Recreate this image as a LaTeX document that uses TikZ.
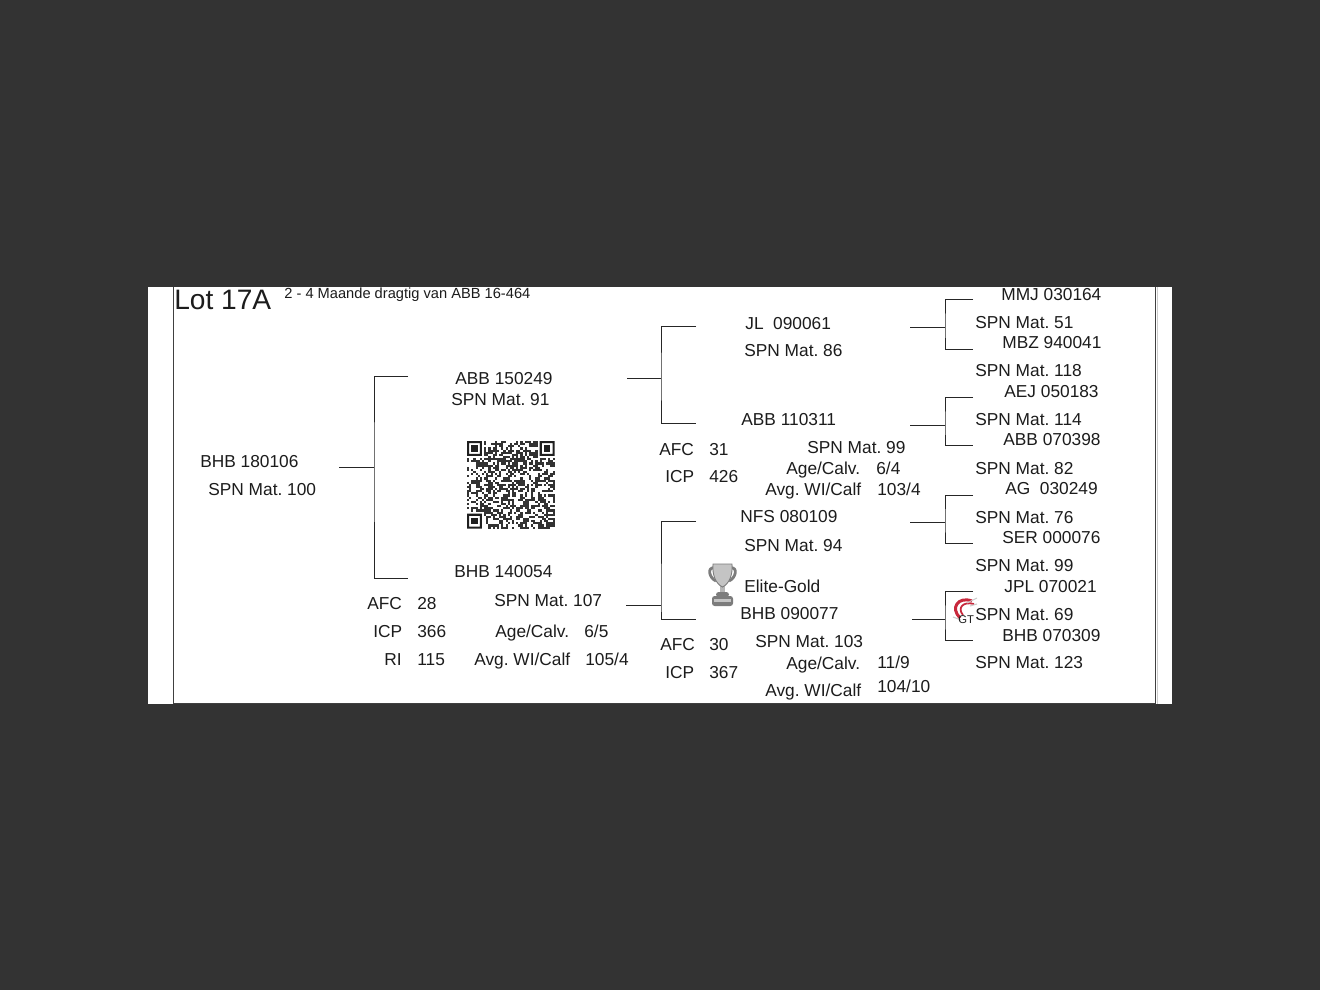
\documentclass[tikz,border=0pt]{standalone}
\usepackage{fontspec}
\setmainfont{Liberation Sans}
\usepackage{xcolor}
\usetikzlibrary{arrows.meta,positioning,calc}
\definecolor{darkbg}{HTML}{333333}
\definecolor{inkblack}{HTML}{1C1C1C}
\definecolor{cupgray}{HTML}{C4C4C4}
\definecolor{cupedge}{HTML}{7C7C7C}
\definecolor{logored}{HTML}{C8283C}
\frenchspacing
\begin{document}
\begin{tikzpicture}[x=0.02cm, y=-0.02cm,
    lab/.style={anchor=base west, inner sep=0pt, yshift=-3.8pt, text=inkblack, font=\fontsize{9.85}{11}\selectfont},
    tree/.style={draw=black!85, line width=0.45pt}]
  \useasboundingbox (0,0) rectangle (1320,990);
  \fill[darkbg] (0,0) rectangle (1320,990);
  \fill[white] (148,287) rectangle (1172,704);
  \draw[line width=0.5pt, draw=black!75] (173.5,287) -- (173.5,703.5) -- (1155,703.5) -- (1155,287);
  \draw[line width=0.5pt, draw=black!20] (1157,287) -- (1157,704);
  % header
  \node[lab, font=\fontsize{16}{18}\selectfont, yshift=-2.4pt] (lot) at (174,299) {Lot 17A};
  \node[lab, font=\fontsize{8.34}{10}\selectfont, yshift=-2pt] (note) at (284,288) {2 - 4 Maande dragtig van ABB 16-464};
  % animal
  \node[lab] (bhbA) at (200,461) {BHB 180106};
  \node[lab] (matA) at (208,489) {SPN Mat. 100};
  % parents
  \node[lab] (abbA) at (455,378) {ABB 150249};
  \node[lab] (matB) at (451,399) {SPN Mat. 91};
  \node[lab] (bhbB) at (454,571) {BHB 140054};
  \node[lab] (matC) at (494,600) {SPN Mat. 107};
  \node[lab] (afcA) at (367,603) {AFC};
  \node[lab] (afcAv) at (417,603) {28};
  \node[lab] (icpA) at (373,631) {ICP};
  \node[lab] (icpAv) at (417,631) {366};
  \node[lab] (riA) at (384,659) {RI};
  \node[lab] (riAv) at (417,659) {115};
  \node[lab] (ageA) at (495,631) {Age/Calv.};
  \node[lab] (ageAv) at (584,631) {6/5};
  \node[lab] (avgA) at (474,659) {Avg. WI/Calf};
  \node[lab] (avgAv) at (585,659) {105/4};
  % grandparents
  \node[lab] (jlA) at (745,323) {JL\ \ 090061};
  \node[lab] (matD) at (744,350) {SPN Mat. 86};
  \node[lab] (abbB) at (741,419) {ABB 110311};
  \node[lab] (afcB) at (659,449) {AFC};
  \node[lab] (afcBv) at (709,449) {31};
  \node[lab] (icpB) at (665,476) {ICP};
  \node[lab] (icpBv) at (709,476) {426};
  \node[lab] (matE) at (807,447) {SPN Mat. 99};
  \node[lab] (ageB) at (786,468) {Age/Calv.};
  \node[lab] (ageBv) at (876,468) {6/4};
  \node[lab] (avgB) at (765,489) {Avg. WI/Calf};
  \node[lab] (avgBv) at (877,489) {103/4};
  \node[lab] (nfsA) at (740,516) {NFS 080109};
  \node[lab] (matF) at (744,545) {SPN Mat. 94};
  \node[lab] (elite) at (744,586) {Elite-Gold};
  \node[lab] (bhbC) at (740,613) {BHB 090077};
  \node[lab] (afcC) at (660,644) {AFC};
  \node[lab] (afcCv) at (709,644) {30};
  \node[lab] (icpC) at (665,672) {ICP};
  \node[lab] (icpCv) at (709,672) {367};
  \node[lab] (matG) at (755,641) {SPN Mat. 103};
  \node[lab] (ageC) at (786,663) {Age/Calv.};
  \node[lab] (ageCv) at (877,662) {11/9};
  \node[lab] (avgC) at (765,690) {Avg. WI/Calf};
  \node[lab] (avgCv) at (877,686) {104/10};
  % great-grandparents
  \node[lab] (mmjA) at (1001,294) {MMJ 030164};
  \node[lab] (matH) at (975,322) {SPN Mat. 51};
  \node[lab] (mbzA) at (1002,342) {MBZ 940041};
  \node[lab] (matI) at (975,370) {SPN Mat. 118};
  \node[lab] (aejA) at (1004,391) {AEJ 050183};
  \node[lab] (matJ) at (975,419) {SPN Mat. 114};
  \node[lab] (abbC) at (1003,439) {ABB 070398};
  \node[lab] (matK) at (975,468) {SPN Mat. 82};
  \node[lab] (agA) at (1005,488) {AG\ \ 030249};
  \node[lab] (matL) at (975,517) {SPN Mat. 76};
  \node[lab] (serA) at (1002,537) {SER 000076};
  \node[lab] (matM) at (975,565) {SPN Mat. 99};
  \node[lab] (jplA) at (1004,586) {JPL 070021};
  \node[lab] (matN) at (975,614) {SPN Mat. 69};
  \node[lab] (bhbD) at (1002,635) {BHB 070309};
  \node[lab] (matO) at (975,662) {SPN Mat. 123};
  % brackets
  \coordinate (stemA) at (339,467); \coordinate (joinA) at (374,467);
  \coordinate (topA) at (408,376); \coordinate (botA) at (408,578);
  \draw[tree] (stemA) -- (joinA); \draw[tree] (topA) -| (joinA) |- (botA);
  \coordinate (stemB) at (627,378); \coordinate (joinB) at (661,378);
  \coordinate (topB) at (696,326); \coordinate (botB) at (696,423);
  \draw[tree] (stemB) -- (joinB); \draw[tree] (topB) -| (joinB) |- (botB);
  \coordinate (stemC) at (626,605); \coordinate (joinC) at (661,605);
  \coordinate (topC) at (696,521); \coordinate (botC) at (696,619);
  \draw[tree] (stemC) -- (joinC); \draw[tree] (topC) -| (joinC) |- (botC);
  \coordinate (stemD) at (910,327); \coordinate (joinD) at (945,327);
  \coordinate (topD) at (973,299); \coordinate (botD) at (973,349);
  \draw[tree] (stemD) -- (joinD); \draw[tree] (topD) -| (joinD) |- (botD);
  \coordinate (stemE) at (910,425); \coordinate (joinE) at (945,425);
  \coordinate (topE) at (973,397); \coordinate (botE) at (973,445);
  \draw[tree] (stemE) -- (joinE); \draw[tree] (topE) -| (joinE) |- (botE);
  \coordinate (stemF) at (910,522); \coordinate (joinF) at (945,522);
  \coordinate (topF) at (973,495); \coordinate (botF) at (973,543);
  \draw[tree] (stemF) -- (joinF); \draw[tree] (topF) -| (joinF) |- (botF);
  \coordinate (stemG) at (912,619); \coordinate (joinG) at (945,619);
  \coordinate (topG) at (973,591); \coordinate (botG) at (973,640);
  \draw[tree] (stemG) -- (joinG); \draw[tree] (topG) -| (joinG) |- (botG);
  % qr code
  \pgfmathsetseed{1741}
  \begin{scope}[shift={(467,441)}, x=0.0428cm, y=-0.0428cm]
    \foreach \i in {0,...,40} {
      \foreach \j in {0,...,40} {
        \pgfmathrandominteger{\bit}{0}{99}
        \ifnum\bit<50
          \ifnum\i<8 \ifnum\j<8 \else \ifnum\j>32 \else \fill[black!80] (\i,\j) rectangle ++(1,1); \fi\fi
          \else\ifnum\i>32 \ifnum\j<8 \else \fill[black!80] (\i,\j) rectangle ++(1,1); \fi
          \else \fill[black!80] (\i,\j) rectangle ++(1,1); \fi\fi
        \fi
      }
    }
    \foreach \fx/\fy in {0/0,34/0,0/34} {
      \fill[black!88, even odd rule] (\fx,\fy) rectangle ++(7,7) (\fx+1,\fy+1) rectangle ++(5,5);
      \fill[black!88] (\fx+2,\fy+2) rectangle ++(3,3);
    }
  \end{scope}
  % trophy
  \draw[cupedge, line width=1.6pt] (714,568) .. controls (707,567) and (709,578) .. (716,581);
  \draw[cupedge, line width=1.6pt] (731,568) .. controls (738,567) and (736,578) .. (729,581);
  \fill[cupgray!80!cupedge] (720,584) rectangle (725,596);
  \fill[cupedge, rounded corners=1.5pt] (716,592) rectangle (729,597);
  \fill[cupedge, rounded corners=1.5pt] (712,596) rectangle (733,606);
  \fill[cupgray] (714,599) rectangle (731,602);
  \fill[cupgray, draw=cupedge, line width=0.5pt] (713,564) -- (732,564) .. controls (733,575) and (729,584) .. (722.5,587) .. controls (716,584) and (712,575) .. (713,564) -- cycle;
  % logo
  \draw[logored, line width=1.7pt] (972,601) .. controls (958,596) and (950,608) .. (960,618);
  \draw[logored, line width=1pt] (974,604) .. controls (963,601) and (957,608) .. (963,615);
  \draw[black!20, line width=0.6pt] (967,603) -- (977,598) (953,617) -- (961,620) (970,606) -- (977,604);
  \node[lab, font=\fontsize{6.4}{7}\selectfont\rmfamily, yshift=-2.5pt] (logo) at (958,612) {GT};
\end{tikzpicture}
\end{document}
